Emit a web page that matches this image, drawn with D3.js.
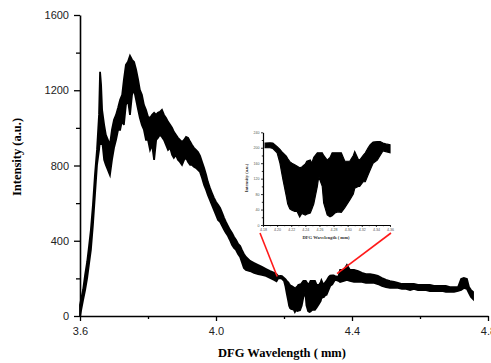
<!DOCTYPE html>
<html>
<head>
<meta charset="utf-8">
<script src="https://cdn.jsdelivr.net/npm/d3@7"></script>
<style>
  html, body { margin: 0; padding: 0; background: #fff; }
  svg { display: block; }
</style>
</head>
<body>
<svg id="chart" width="491" height="363"></svg>
<script>
// DFG emission spectrum: the signal is strongly modulated, so each sample
// keeps the lower and upper edge of the recorded intensity band.
const wavelength = [
  3.600, 3.609, 3.615, 3.621, 3.626, 3.632, 3.638, 3.644, 3.650, 3.656,
  3.659, 3.662, 3.665, 3.671, 3.676, 3.682, 3.688, 3.694, 3.700, 3.706,
  3.712, 3.718, 3.724, 3.729, 3.735, 3.741, 3.747, 3.753, 3.759, 3.765,
  3.771, 3.776, 3.782, 3.788, 3.794, 3.800, 3.806, 3.812, 3.818, 3.824,
  3.829, 3.835, 3.841, 3.847, 3.853, 3.859, 3.865, 3.871, 3.876, 3.882,
  3.888, 3.894, 3.900, 3.906, 3.912, 3.918, 3.924, 3.929, 3.935, 3.941,
  3.947, 3.953, 3.959, 3.965, 3.971, 3.976, 3.982, 3.988, 3.994, 4.000,
  4.006, 4.012, 4.018, 4.024, 4.029, 4.035, 4.041, 4.047, 4.053, 4.059,
  4.065, 4.071, 4.076, 4.082, 4.088, 4.100, 4.112, 4.124, 4.135, 4.147,
  4.159, 4.171, 4.178,
  4.183, 4.190, 4.194, 4.200, 4.204, 4.208, 4.213, 4.215, 4.218, 4.221,
  4.225, 4.228, 4.232, 4.235, 4.240, 4.242, 4.247, 4.249, 4.252, 4.257,
  4.259, 4.264, 4.266, 4.271, 4.275, 4.278, 4.282, 4.286, 4.291, 4.296,
  4.303, 4.308, 4.310, 4.315, 4.317, 4.322, 4.325, 4.329, 4.332, 4.336,
  4.342, 4.346, 4.350, 4.354, 4.360,
  4.365, 4.376, 4.385, 4.394, 4.406, 4.418, 4.429, 4.441, 4.453, 4.465,
  4.476, 4.488, 4.500, 4.512, 4.524, 4.535, 4.547, 4.559, 4.571, 4.582,
  4.594, 4.606, 4.618, 4.629, 4.641, 4.653, 4.665, 4.676, 4.688, 4.700,
  4.712, 4.721, 4.729, 4.738, 4.744, 4.750, 4.756
];

const intensityHigh = [
    59,  138,  218,  287,  362,  458,  590,  750,  883, 1069,
  1298, 1229, 1096, 1016,  963,  936,  910,  990, 1043, 1069,
  1107, 1149, 1176, 1255, 1335, 1351, 1383, 1362, 1351, 1309,
  1255, 1202, 1176, 1122, 1096, 1059, 1053, 1069, 1080, 1069,
  1080, 1085, 1096, 1069, 1053, 1032, 1016, 1000,  979,  963,
   947,  936,  926,  936,  952,  947,  926,  910,  894,  883,
   872,  851,  819,  787,  750,  713,  681,  654,  628,  606,
   591,  575,  548,  521,  500,  479,  458,  442,  420,  404,
   383,  372,  351,  330,  314,  293,  282,  271,  261,  250,
   239,  229,  222,
   212,  213,  212,  203,  196,  187,  178,  172,  164,  160,
   156,  153,  148,  150,  158,  165,  168,  160,  175,  187,
   187,  187,  180,  168,  175,  187,  187,  187,  187,  165,
   165,  180,  190,  170,  168,  180,  187,  200,  208,  215,
   216,  216,  212,  210,  208,
   245,  245,  271,  245,  245,  239,  229,  223,  223,  218,
   213,  202,  192,  186,  181,  176,  170,  170,  170,  170,
   165,  165,  165,  165,  160,  160,  160,  160,  154,  154,
   154,  197,  202,  197,  154,  138,  128
];

const intensityLow = [
     0,   85,  138,  202,  271,  351,  484,  644,  803,  883,
   936,  910,  936,  830,  803,  777,  750,  830,  894,  936,
   990,  990, 1043, 1016, 1122, 1149, 1069, 1176, 1202, 1149,
  1096, 1053, 1016,  990,  936,  936,  883,  910,  830,  936,
   947,  963,  952,  936,  910,  883,  894,  856,  841,  856,
   830,  819,  803,  830,  841,  819,  803,  803,  793,  787,
   777,  766,  734,  697,  670,  644,  617,  591,  564,  537,
   511,  500,  479,  458,  442,  426,  404,  378,  362,  351,
   330,  314,  287,  255,  245,  239,  229,  223,  218,  213,
   202,  192,  185,
   200,  200,  198,  187,  160,  120,   75,   55,   42,   38,
    35,   36,   21,   30,   26,   28,   31,   40,   55,  100,
   125,  100,   57,   26,   21,   24,   31,   34,   33,   45,
    65,   80,   95,  100,  100,  112,  112,  130,  143,  160,
   168,  180,  192,  190,  187,
   181,  186,  192,  186,  181,  181,  181,  176,  176,  176,
   170,  160,  154,  149,  149,  149,  144,  144,  138,  144,
   138,  138,  138,  133,  133,  133,  133,  128,  128,  128,
   133,  138,  149,  144,  122,  101,   90
];

// Axis ticks
const xMajorTicks = [3.6, 4.0, 4.4, 4.8];
const xMinorTicks = [3.8, 4.2, 4.6];
const yMajorTicks = [0, 400, 800, 1200, 1600];
const yMinorTicks = [200, 600, 1000, 1400];

// Zoomed view of the modulated region
const insetRange = [4.18, 4.36];
const insetXTicks = [4.18, 4.20, 4.22, 4.24, 4.26, 4.28, 4.30, 4.32, 4.34, 4.36];
const insetXMinor = [4.19, 4.21, 4.23, 4.25, 4.27, 4.29, 4.31, 4.33, 4.35];
const insetYTicks = [0, 40, 80, 120, 160, 200, 240];
const insetYMinor = [20, 60, 100, 140, 180, 220];
// Curve points the inset is tied to on the main plot
const linkPoints = [[4.18, 210], [4.356, 225]];

const spectrum = wavelength.map((w, i) => ({ w, hi: intensityHigh[i], lo: intensityLow[i] }));

const svg = d3.select("#chart");
const sansFont = "'Liberation Sans', Arial, sans-serif";
const serifFont = "'Liberation Serif', 'Times New Roman', serif";

// Main plot
const x = d3.scaleLinear().domain([3.6, 4.8]).range([80, 488]);
const y = d3.scaleLinear().domain([0, 1600]).range([316, 15]);

const band = (sx, sy) => d3.area()
  .x(d => sx(d.w))
  .y0(d => sy(d.lo))
  .y1(d => sy(d.hi))
  .curve(d3.curveLinear);

svg.append("path")
  .datum(spectrum)
  .attr("d", band(x, y))
  .attr("fill", "#000")
  .attr("stroke", "#000")
  .attr("stroke-width", 1.8)
  .attr("stroke-linejoin", "miter");

const xAxis = svg.append("g").attr("transform", `translate(0,${y(0)})`)
  .call(d3.axisBottom(x).tickValues(xMajorTicks).tickFormat(d3.format(".1f"))
    .tickSize(5).tickSizeOuter(0).tickPadding(6));
xAxis.append("g").call(d3.axisBottom(x).tickValues(xMinorTicks).tickFormat("").tickSize(3).tickSizeOuter(0))
  .select(".domain").remove();

const yAxis = svg.append("g").attr("transform", `translate(${x(3.6)},0)`)
  .call(d3.axisLeft(y).tickValues(yMajorTicks).tickFormat(d3.format("d"))
    .tickSize(6).tickSizeOuter(0).tickPadding(5));
yAxis.append("g").call(d3.axisLeft(y).tickValues(yMinorTicks).tickFormat("").tickSize(4).tickSizeOuter(0))
  .select(".domain").remove();

[xAxis, yAxis].forEach(g => {
  g.selectAll(".domain").attr("stroke", "#000").attr("stroke-width", 1.6);
  g.selectAll(".tick line").attr("stroke", "#000").attr("stroke-width", 1.3);
  g.selectAll(".tick text").attr("font-family", sansFont).attr("font-size", 11).attr("fill", "#222");
});

svg.append("text")
  .attr("x", 282).attr("y", 357)
  .attr("text-anchor", "middle")
  .attr("font-family", serifFont).attr("font-weight", "bold").attr("font-size", 12.5)
  .text("DFG Wavelength ( mm)");

svg.append("text")
  .attr("transform", "translate(21,157) rotate(-90)")
  .attr("text-anchor", "middle")
  .attr("font-family", serifFont).attr("font-weight", "bold").attr("font-size", 12.5)
  .text("Intensity (a.u.)");

// Inset
const xi = d3.scaleLinear().domain(insetRange).range([263, 390]);
const yi = d3.scaleLinear().domain([0, 240]).range([225, 132.3]);

// Red connectors from the inset's axis ends to the curve
svg.selectAll("line.link")
  .data(linkPoints)
  .join("line")
  .attr("class", "link")
  .attr("x1", (d, i) => i === 0 ? xi(insetRange[0]) - 3 : xi(insetRange[1]) + 1)
  .attr("y1", yi(0) + 8)
  .attr("x2", d => x(d[0]))
  .attr("y2", d => y(d[1]))
  .attr("stroke", "#ff1a1a")
  .attr("stroke-width", 1.6);

const insetData = spectrum.filter(d => d.w >= insetRange[0] - 1e-9 && d.w <= insetRange[1] + 1e-9);

svg.append("path")
  .datum(insetData)
  .attr("d", band(xi, yi))
  .attr("fill", "#000")
  .attr("stroke", "#000")
  .attr("stroke-width", 1.2)
  .attr("stroke-linejoin", "miter");

const ixAxis = svg.append("g").attr("transform", `translate(0,${yi(0)})`)
  .call(d3.axisBottom(xi).tickValues(insetXTicks).tickFormat(d3.format(".2f"))
    .tickSize(2).tickSizeOuter(0).tickPadding(1.5));
ixAxis.append("g").call(d3.axisBottom(xi).tickValues(insetXMinor).tickFormat("").tickSize(1.2).tickSizeOuter(0))
  .select(".domain").remove();

const iyAxis = svg.append("g").attr("transform", `translate(${xi(insetRange[0])},0)`)
  .call(d3.axisLeft(yi).tickValues(insetYTicks).tickSize(2).tickSizeOuter(0).tickPadding(1.5));
iyAxis.append("g").call(d3.axisLeft(yi).tickValues(insetYMinor).tickFormat("").tickSize(1.2).tickSizeOuter(0))
  .select(".domain").remove();

[ixAxis, iyAxis].forEach(g => {
  g.selectAll(".domain").attr("stroke", "#000").attr("stroke-width", 1.2);
  g.selectAll(".tick line").attr("stroke", "#000").attr("stroke-width", 0.8);
  g.selectAll(".tick text").attr("font-family", sansFont).attr("font-size", 3.6).attr("fill", "#555");
});

svg.append("text")
  .attr("x", 326).attr("y", 238.5)
  .attr("text-anchor", "middle")
  .attr("font-family", serifFont).attr("font-weight", "bold").attr("font-size", 4.6).attr("fill", "#333")
  .text("DFG Wavelength ( mm)");

svg.append("text")
  .attr("transform", "translate(248,178) rotate(-90)")
  .attr("text-anchor", "middle")
  .attr("font-family", serifFont).attr("font-weight", "bold").attr("font-size", 4.6).attr("fill", "#333")
  .text("Intensity (a.u.)");
</script>
</body>
</html>
